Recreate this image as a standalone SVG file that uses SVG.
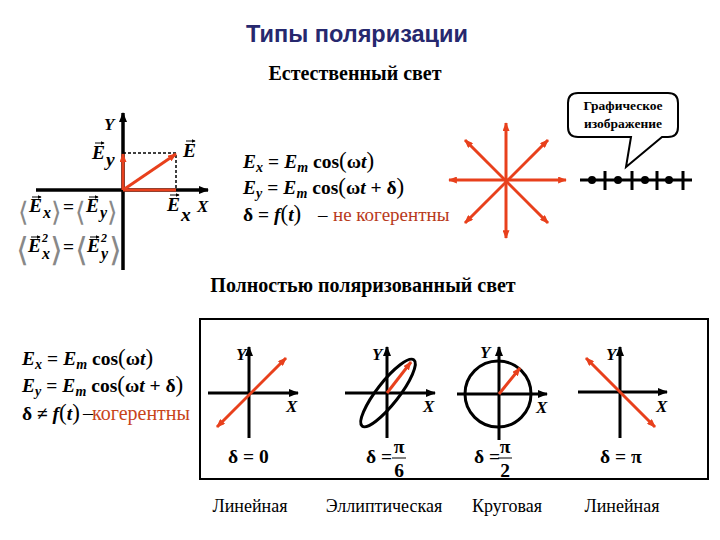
<svg xmlns="http://www.w3.org/2000/svg" width="720" height="540" viewBox="0 0 720 540">
<style>
.ax{stroke:#000;stroke-width:3.5;fill:none}
.ax2{stroke:#000;stroke-width:3;fill:none}
.rd{stroke:#e8401c;stroke-width:3;fill:none}
.dash{stroke:#000;stroke-width:1.5;stroke-dasharray:3,2;fill:none}
.vec{stroke:#000;stroke-width:1;fill:none}
.f{font-family:"Liberation Serif",serif;font-size:19.5px;font-weight:bold;fill:#000}
.i{font-style:italic}
.s{font-size:14px}
.p{font-size:23px;font-weight:normal}
.sb{font-size:16px}
.sp{font-size:12px}
.br{font-family:"DejaVu Sans",sans-serif;font-weight:normal;fill:#888}
.lbl{font-family:"Liberation Serif",serif;font-size:17px;font-weight:bold;font-style:italic;fill:#000}
.cap{font-family:"Liberation Serif",serif;font-size:18px;fill:#000}
.hd{font-family:"Liberation Serif",serif;font-size:20px;font-weight:bold;fill:#000}
.red{font-family:"Liberation Serif",serif;font-weight:normal;font-style:normal}
</style>
<defs>
<marker id="ab" viewBox="0 0 10 8" refX="9" refY="4" markerWidth="10" markerHeight="8" markerUnits="userSpaceOnUse" orient="auto-start-reverse"><path d="M0,0 L10,4 L0,8 z" fill="#000"/></marker>
<marker id="ar" viewBox="0 0 10 8" refX="9" refY="4" markerWidth="9" markerHeight="7" markerUnits="userSpaceOnUse" orient="auto-start-reverse"><path d="M0,0 L10,4 L0,8 z" fill="#e8401c"/></marker>
<marker id="av" viewBox="0 0 6 6" refX="5" refY="3" markerWidth="4" markerHeight="4" markerUnits="userSpaceOnUse" orient="auto"><path d="M0,0 L6,3 L0,6 z" fill="#000"/></marker>
</defs>

<!-- Titles -->
<text x="357" y="42" text-anchor="middle" font-family="Liberation Sans, Arial, sans-serif" font-size="23.5" font-weight="bold" fill="#26286e">Типы поляризации</text>
<text x="355" y="80" text-anchor="middle" class="hd">Естественный свет</text>
<text x="363" y="292" text-anchor="middle" class="hd">Полностью поляризованный свет</text>

<!-- Top-left vector diagram -->
<g id="natural-axes">
<line class="ax" x1="36" y1="190" x2="208" y2="190" marker-end="url(#ab)"/>
<line class="ax" x1="123" y1="270" x2="123" y2="113" marker-end="url(#ab)"/>
<polyline class="dash" points="123,153 176,153 176,190"/>
<line class="rd" x1="123" y1="190" x2="176" y2="190"/>
<line class="rd" x1="123" y1="190" x2="123" y2="154" marker-end="url(#ar)"/>
<line class="rd" x1="123" y1="190" x2="176" y2="154" marker-end="url(#ar)"/>
<text class="lbl" x="104" y="130">Y</text>
<text class="lbl" x="197" y="212">X</text>
<text class="f i" x="183" y="157">E</text>
<text class="f i"><tspan x="92" y="159">E</tspan><tspan x="106" y="166">y</tspan></text>
<text class="f i"><tspan x="167" y="211">E</tspan><tspan x="181" y="221">x</tspan></text>
<g class="vec">
<line x1="186" y1="141" x2="195" y2="141" marker-end="url(#av)"/>
<line x1="95" y1="143" x2="104" y2="143" marker-end="url(#av)"/>
<line x1="170" y1="195" x2="179" y2="195" marker-end="url(#av)"/>
</g>
</g>

<g id="natural-averages">
<text class="br" x="18" y="221" font-size="27">⟨</text>
<text class="f i"><tspan x="29" y="212">E</tspan><tspan class="sb" x="43" y="218">x</tspan></text>
<text class="br" x="51" y="221" font-size="27">⟩</text>
<text class="f" x="63" y="213">=</text>
<text class="br" x="75" y="221" font-size="27">⟨</text>
<text class="f i"><tspan x="86" y="212">E</tspan><tspan class="sb" x="100" y="218">y</tspan></text>
<text class="br" x="107" y="221" font-size="27">⟩</text>

<text class="br" x="16" y="261" font-size="33">⟨</text>
<text class="f i"><tspan x="28" y="252">E</tspan><tspan class="sp" x="42" y="242">2</tspan><tspan class="sb" x="42" y="259">x</tspan></text>
<text class="br" x="50" y="261" font-size="33">⟩</text>
<text class="f" x="63" y="253">=</text>
<text class="br" x="75" y="261" font-size="33">⟨</text>
<text class="f i"><tspan x="87" y="252">E</tspan><tspan class="sp" x="101" y="242">2</tspan><tspan class="sb" x="101" y="259">y</tspan></text>
<text class="br" x="109" y="261" font-size="33">⟩</text>
<g class="vec">
<line x1="32" y1="197" x2="41" y2="197" marker-end="url(#av)"/>
<line x1="89" y1="197" x2="98" y2="197" marker-end="url(#av)"/>
<line x1="31" y1="237" x2="40" y2="237" marker-end="url(#av)"/>
<line x1="90" y1="237" x2="99" y2="237" marker-end="url(#av)"/>
</g>
</g>

<!-- Natural light formulas -->
<g id="natural-formulas">
<text class="f" x="243" y="168"><tspan class="i">E</tspan><tspan class="i s" dy="4">x</tspan><tspan dy="-4" dx="5">=</tspan><tspan class="i" dx="5">E</tspan><tspan class="i s" dy="4">m</tspan><tspan dy="-4" dx="5">cos</tspan><tspan class="p">(</tspan>ω<tspan class="i">t</tspan><tspan class="p">)</tspan></text>
<text class="f" x="243" y="194"><tspan class="i">E</tspan><tspan class="i s" dy="4">y</tspan><tspan dy="-4" dx="5">=</tspan><tspan class="i" dx="5">E</tspan><tspan class="i s" dy="4">m</tspan><tspan dy="-4" dx="5">cos</tspan><tspan class="p">(</tspan>ω<tspan class="i">t</tspan> + δ<tspan class="p">)</tspan></text>
<text class="f" x="243" y="221">δ = <tspan class="i">f</tspan><tspan class="p">(</tspan><tspan class="i">t</tspan><tspan class="p">)</tspan></text>
<text class="red" x="318" y="221" font-size="19" fill="#000">–</text>
<text class="red" x="333" y="221" font-size="19" fill="#b83a1c">не когерентны</text>
</g>

<!-- Star -->
<g id="star">
<line class="rd" x1="449" y1="180" x2="566" y2="180" marker-start="url(#ar)" marker-end="url(#ar)"/>
<line class="rd" x1="506" y1="123" x2="506" y2="238" marker-start="url(#ar)" marker-end="url(#ar)"/>
<line class="rd" x1="465" y1="140" x2="548" y2="223" marker-start="url(#ar)" marker-end="url(#ar)"/>
<line class="rd" x1="548" y1="140" x2="465" y2="223" marker-start="url(#ar)" marker-end="url(#ar)"/>
</g>

<!-- Callout -->
<g id="callout">
<path d="M578,93 H668 Q678,93 678,103 V127 Q678,137 668,137 H662 L626,167 L631,137 H578 Q568,137 568,127 V103 Q568,93 578,93 Z" fill="#fff" stroke="#000" stroke-width="2"/>
<text x="623" y="110" text-anchor="middle" font-family="Liberation Serif, serif" font-size="13.5" font-weight="bold">Графическое</text>
<text x="623" y="128" text-anchor="middle" font-family="Liberation Serif, serif" font-size="13.5" font-weight="bold">изображение</text>
</g>

<!-- Graphic representation line -->
<g id="symbol-line">
<line x1="580" y1="180" x2="692" y2="180" stroke="#000" stroke-width="3"/>
<g fill="#000"><circle cx="592" cy="180" r="4"/><circle cx="618" cy="180" r="4"/><circle cx="645" cy="180" r="4"/><circle cx="669" cy="180" r="4"/></g>
<g stroke="#000" stroke-width="3"><line x1="605" y1="171" x2="605" y2="190"/><line x1="632" y1="171" x2="632" y2="190"/><line x1="657" y1="171" x2="657" y2="190"/><line x1="683" y1="171" x2="683" y2="190"/></g>
</g>

<!-- Coherent formulas -->
<g id="coherent-formulas">
<text class="f" x="22" y="365"><tspan class="i">E</tspan><tspan class="i s" dy="4">x</tspan><tspan dy="-4" dx="5">=</tspan><tspan class="i" dx="5">E</tspan><tspan class="i s" dy="4">m</tspan><tspan dy="-4" dx="5">cos</tspan><tspan class="p">(</tspan>ω<tspan class="i">t</tspan><tspan class="p">)</tspan></text>
<text class="f" x="22" y="392"><tspan class="i">E</tspan><tspan class="i s" dy="4">y</tspan><tspan dy="-4" dx="5">=</tspan><tspan class="i" dx="5">E</tspan><tspan class="i s" dy="4">m</tspan><tspan dy="-4" dx="5">cos</tspan><tspan class="p">(</tspan>ω<tspan class="i">t</tspan> + δ<tspan class="p">)</tspan></text>
<text class="f" x="22" y="420">δ ≠ <tspan class="i">f</tspan><tspan class="p">(</tspan><tspan class="i">t</tspan><tspan class="p">)</tspan></text>
<text class="red" x="83" y="420" font-size="20" fill="#000">–</text>
<text class="red" x="92" y="420" font-size="20" fill="#c8441a">когерентны</text>
</g>

<!-- Box -->
<rect x="200" y="319" width="508" height="160" fill="none" stroke="#000" stroke-width="2"/>

<g id="linear0">
<line class="ax2" x1="208" y1="393" x2="298" y2="393" marker-end="url(#ab)"/>
<line class="ax2" x1="249" y1="438" x2="249" y2="347" marker-end="url(#ab)"/>
<line class="rd" x1="217" y1="427" x2="286" y2="358" marker-start="url(#ar)" marker-end="url(#ar)"/>
<text class="lbl" x="236" y="360">Y</text>
<text class="lbl" x="286" y="412">X</text>
<text class="f" x="228" y="463">δ = 0</text>
<text class="cap" x="250" y="512" text-anchor="middle">Линейная</text>
</g>

<g id="elliptic">
<line class="ax2" x1="345" y1="393" x2="435" y2="393" marker-end="url(#ab)"/>
<line class="ax2" x1="387" y1="438" x2="387" y2="347" marker-end="url(#ab)"/>
<ellipse cx="388" cy="393" rx="42" ry="11" transform="rotate(-52 388 393)" fill="none" stroke="#000" stroke-width="3"/>
<line class="rd" x1="387" y1="393" x2="411" y2="362" marker-end="url(#ar)"/>
<text class="lbl" x="372" y="360">Y</text>
<text class="lbl" x="423" y="412">X</text>
<text class="f" x="366" y="463">δ =</text>
<text class="f" x="399" y="453" text-anchor="middle">π</text>
<line x1="392" y1="458" x2="406" y2="458" stroke="#000" stroke-width="1"/>
<text class="f" x="399" y="477" text-anchor="middle">6</text>
<text class="cap" x="384" y="512" text-anchor="middle">Эллиптическая</text>
</g>

<g id="circular">
<line class="ax2" x1="457" y1="394" x2="547" y2="394" marker-end="url(#ab)"/>
<line class="ax2" x1="499" y1="440" x2="499" y2="347" marker-end="url(#ab)"/>
<circle cx="498" cy="394" r="33" fill="none" stroke="#000" stroke-width="3"/>
<line class="rd" x1="499" y1="394" x2="520" y2="368" marker-end="url(#ar)"/>
<text class="lbl" x="480" y="358">Y</text>
<text class="lbl" x="536" y="413">X</text>
<text class="f" x="474" y="463">δ =</text>
<text class="f" x="505" y="453" text-anchor="middle">π</text>
<line x1="498" y1="458" x2="512" y2="458" stroke="#000" stroke-width="1"/>
<text class="f" x="505" y="477" text-anchor="middle">2</text>
<text class="cap" x="507" y="512" text-anchor="middle">Круговая</text>
</g>

<g id="linearpi">
<line class="ax2" x1="578" y1="392" x2="667" y2="392" marker-end="url(#ab)"/>
<line class="ax2" x1="620" y1="438" x2="620" y2="347" marker-end="url(#ab)"/>
<line class="rd" x1="586" y1="358" x2="655" y2="427" marker-start="url(#ar)" marker-end="url(#ar)"/>
<text class="lbl" x="606" y="360">Y</text>
<text class="lbl" x="656" y="412">X</text>
<text class="f" x="600" y="463">δ = π</text>
<text class="cap" x="622" y="512" text-anchor="middle">Линейная</text>
</g>
</svg>
